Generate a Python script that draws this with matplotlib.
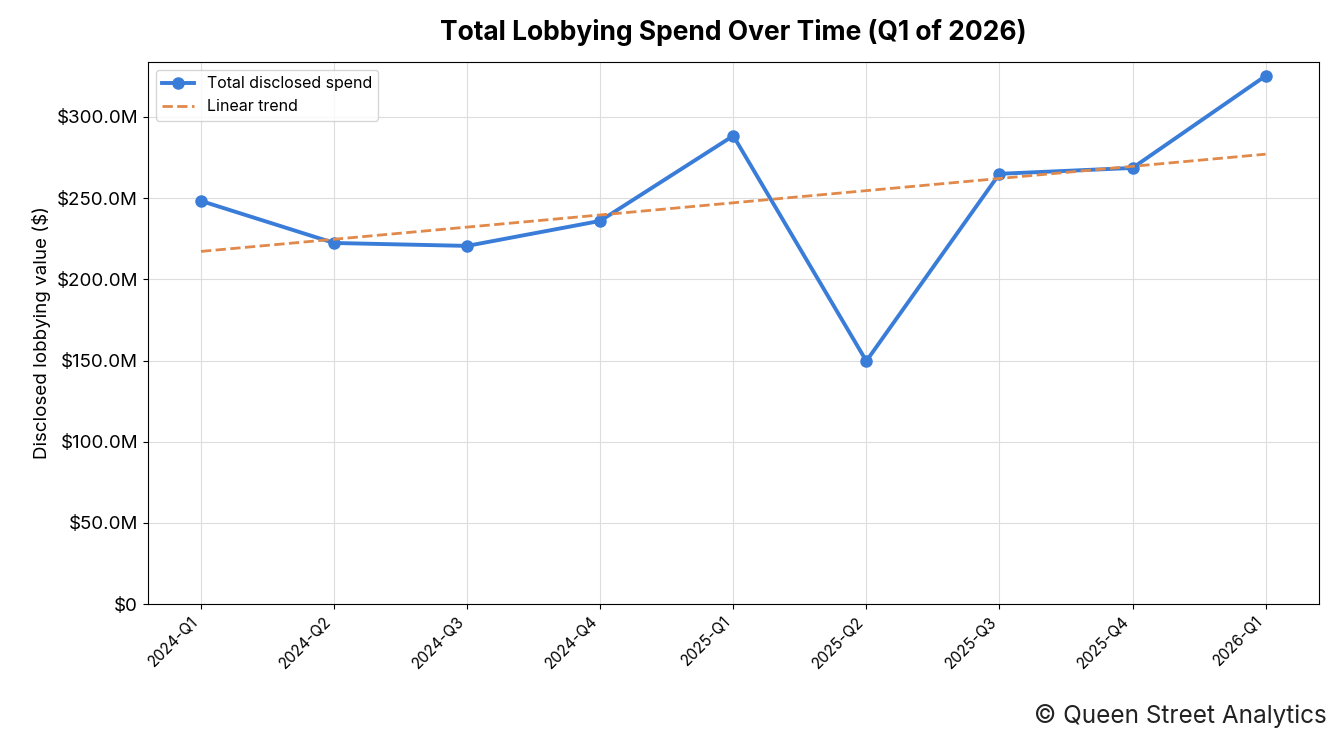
import numpy as np
import matplotlib
matplotlib.use("Agg")
import matplotlib.pyplot as plt
from matplotlib.ticker import FuncFormatter

plt.rcParams['font.family'] = ['Inter', 'DejaVu Sans']

quarters = ['2024-Q1', '2024-Q2', '2024-Q3', '2024-Q4', '2025-Q1',
            '2025-Q2', '2025-Q3', '2025-Q4', '2026-Q1']
spend = [248.3, 222.4, 220.6, 236.0, 288.4, 149.7, 265.0, 268.6, 325.3]  # $M

x = np.arange(len(quarters))
y = np.array(spend) * 1e6
coef = np.polyfit(x, y, 1)
trend = np.polyval(coef, x)

fig = plt.figure(figsize=(13.43, 7.44), dpi=100)
ax = fig.add_axes([0.110, 0.188, 0.872, 0.729])

ax.plot(x, y, color='#3a7dd8', lw=2.8, marker='o', ms=8, label='Total disclosed spend')
ax.plot(x, trend, color='#e0894a', lw=2, ls='--', label='Linear trend')

ax.set_ylim(0, 334e6)
ax.set_xlim(-0.4, len(x) - 0.6)
ax.yaxis.set_major_formatter(FuncFormatter(lambda v, p: '$0' if v == 0 else f'${v/1e6:.1f}M'))
ax.set_xticks(x)
ax.set_xticklabels(quarters, rotation=45, ha='right', fontsize=11)
ax.tick_params(axis='y', labelsize=13.5)
ax.grid(True, color='#dddddd', lw=0.8)
ax.set_ylabel('Disclosed lobbying value ($)', fontsize=13.5)
ax.set_title('Total Lobbying Spend Over Time (Q1 of 2026)', fontsize=19, fontweight='bold', pad=16)
ax.legend(loc='upper left', fontsize=11.5)

fig.text(0.988, 0.022, '© Queen Street Analytics', ha='right', va='bottom', fontsize=17.5, color='#222222')

fig.savefig('out.png', dpi=100)
